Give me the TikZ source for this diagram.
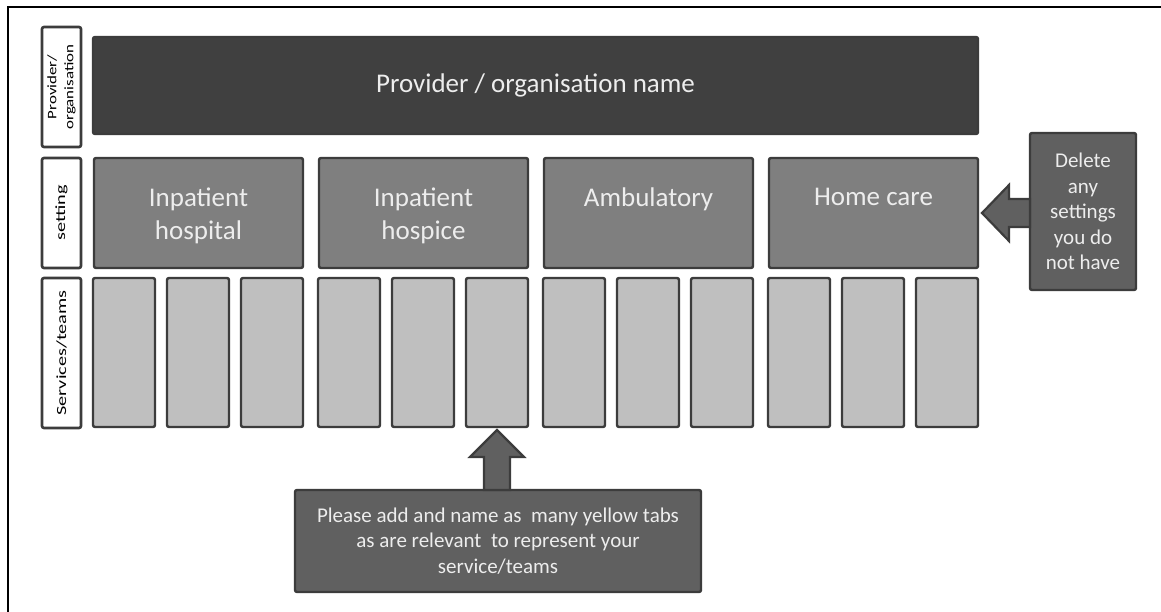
\documentclass[tikz,border=0pt]{standalone}
\usepackage{fontspec}
\setmainfont{Carlito}
\usepackage{graphicx}
\definecolor{edge}{HTML}{3C3C3C}
\definecolor{bannerfill}{HTML}{404040}
\definecolor{setfill}{HTML}{7F7F7F}
\definecolor{svcfill}{HTML}{BFBFBF}
\definecolor{callfill}{HTML}{606060}
\definecolor{lighttext}{HTML}{EDEDED}
\begin{document}
\begin{tikzpicture}[x=1pt,y=-1pt,
  box/.style={draw=edge,line width=2.4pt,rounded corners=2pt,inner sep=0pt,outer sep=0pt},
  lab/.style={box,fill=white,line width=2.6pt,rotate=90,minimum height=39pt,align=center,text=black},
  banner/.style={box,fill=bannerfill,minimum width=885pt,minimum height=97pt,text=lighttext,font=\fontsize{27}{32}\selectfont},
  setbox/.style={box,fill=setfill,minimum width=209pt,minimum height=110pt},
  settxt/.style={inner sep=0pt,anchor=north,align=center,text=lighttext,font=\fontsize{27}{33}\selectfont,yshift=-30pt},
  svc/.style={box,fill=svcfill,minimum width=62pt,minimum height=149pt},
  callout/.style={box,fill=callfill,align=center,text=lighttext,font=\fontsize{21}{25.5}\selectfont},
  blk/.style={draw=edge,line width=2.2pt,fill=callfill,line join=miter}
]
\useasboundingbox (0,0) rectangle (1161,612);
\fill[white] (0,0) rectangle (1161,612);
\draw[line width=2pt] (8,612) -- (8,7) -- (1161,7);

% row labels
\node[lab,minimum width=120pt,font=\fontsize{13}{17}\selectfont] (lprov) at (61.5,87)
  {\scalebox{1.3}[1]{Provider/}\\\scalebox{1.3}[1]{organisation}};
\node[lab,minimum width=110pt,font=\fontsize{14}{17}\selectfont] (lset) at (61.5,213)
  {\scalebox{1.45}[1]{setting}};
\node[lab,minimum width=150pt,font=\fontsize{14}{17}\selectfont] (lsvc) at (61.5,353)
  {\scalebox{1.45}[1]{Services/teams}};

% banner
\node[banner] (prov) at (535.5,85.5) {Provider / organisation name};

% settings
\node[setbox,label={[settxt]north:{Inpatient\\hospital}}] (hosp) at (198.5,213) {};
\node[setbox,label={[settxt]north:{Inpatient\\hospice}}] (hospice) at (423.5,213) {};
\node[setbox,label={[settxt]north:{Ambulatory}}] (amb) at (648.5,213) {};
\node[setbox,label={[settxt]north:{Home care}}] (home) at (873.5,213) {};

% services / teams
\foreach \g [count=\i] in {93,318,543,768}
  \foreach \o [count=\j] in {0,74,148}
    \node[svc] (s\i\j) at (\g+\o+31,352.5) {};

% callouts
\node[callout,minimum width=106pt,minimum height=157pt] (del) at (1083,211.5)
  {Delete\\any\\settings\\you do\\not have};
\node[callout,minimum width=406pt,minimum height=102pt] (add) at (498,541)
  {Please add and name as\ \ many yellow tabs\\as are relevant\ \ to represent your\\service/teams};

% block arrows
\draw[blk] ([xshift=4pt]home.east) -- ++(27,-28) -- ++(0,14) -- ++(21,0) -- ++(0,28)
  -- ++(-21,0) -- ++(0,14) -- cycle;
\draw[blk] ([yshift=-3pt]s23.south) -- ++(-27,27) -- ++(14,0) -- ++(0,33) -- ++(26,0)
  -- ++(0,-33) -- ++(14,0) -- cycle;
\end{tikzpicture}
\end{document}
